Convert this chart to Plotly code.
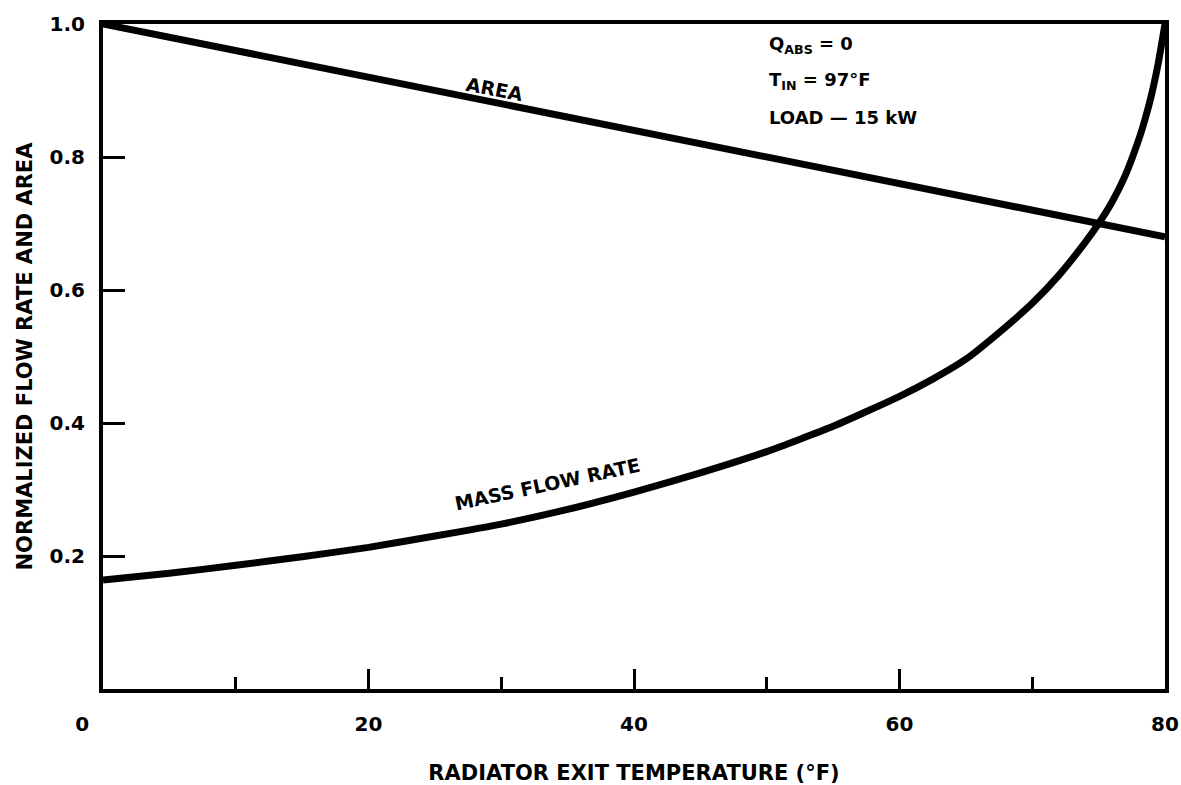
import plotly.graph_objects as go

# Data
temp_area = [0, 10, 20, 30, 40, 50, 60, 70, 80]
area = [1.0, 0.96, 0.92, 0.88, 0.84, 0.80, 0.76, 0.72, 0.68]

temp_flow = [0, 5, 10, 15, 20, 25, 30, 35, 40, 45, 50, 55, 60, 62.5, 65, 67.5, 70, 72, 74, 75,
             76, 77, 78, 78.5, 79, 79.5, 80]
mass_flow = [0.164, 0.174, 0.186, 0.199, 0.213, 0.23, 0.248, 0.27, 0.296, 0.325, 0.357, 0.395,
             0.44, 0.466, 0.496, 0.536, 0.58, 0.622, 0.672, 0.70, 0.732, 0.772, 0.825, 0.857,
             0.895, 0.942, 1.0]

x_tickvals = [0, 20, 40, 60, 80]
x_ticktext = ["0" + "\u00a0" * 6, "20", "40", "60", "80"]
y_tickvals = [0.2, 0.4, 0.6, 0.8, 1.0]
y_ticktext = ["0.2", "0.4", "0.6", "0.8", "1.0"]

FONT = "DejaVu Sans"

fig = go.Figure()
fig.add_trace(go.Scatter(x=temp_area, y=area, mode="lines",
                         line=dict(color="black", width=7), showlegend=False))
fig.add_trace(go.Scatter(x=temp_flow, y=mass_flow, mode="lines",
                         line=dict(color="black", width=7, shape="spline", smoothing=0.5),
                         showlegend=False))

fig.update_layout(
    width=1181, height=785,
    margin=dict(l=103, r=2, t=24, b=86),
    paper_bgcolor="white", plot_bgcolor="white",
    font=dict(family=FONT, color="black", size=18, weight="bold"),
)
fig.update_xaxes(
    range=[0, 80], showgrid=False, zeroline=False,
    showline=True, linecolor="black", linewidth=4, mirror=True,
    tickvals=x_tickvals, ticktext=x_ticktext,
    ticks="inside", ticklen=20, tickwidth=3, tickcolor="black",
    minor=dict(dtick=10, tick0=0, ticks="inside", ticklen=12, tickwidth=3, tickcolor="black"),
    tickfont=dict(family=FONT, size=20, weight="bold"),
    ticklabelstandoff=14, ticklabeloverflow="allow",
    title=dict(text="RADIATOR EXIT TEMPERATURE (°F)",
               font=dict(family=FONT, size=21, weight="bold"), standoff=32),
)
fig.update_yaxes(
    range=[0, 1.0], showgrid=False, zeroline=False,
    showline=True, linecolor="black", linewidth=4, mirror=True,
    tickvals=y_tickvals, ticktext=y_ticktext,
    ticks="inside", ticklen=22, tickwidth=3, tickcolor="black",
    tickfont=dict(family=FONT, size=20, weight="bold"),
    ticklabelstandoff=10,
    title=dict(text="NORMALIZED FLOW RATE AND AREA",
               font=dict(family=FONT, size=21, weight="bold"), standoff=12),
)

fig.add_annotation(x=29.5, y=0.903, xref="x", yref="y", text="AREA", showarrow=False,
                   textangle=11, font=dict(family=FONT, size=19, weight="bold"))
fig.add_annotation(x=33.5, y=0.309, xref="x", yref="y", text="MASS FLOW RATE", showarrow=False,
                   textangle=-12, font=dict(family=FONT, size=19, weight="bold"))
fig.add_annotation(x=50.0, y=0.968, xref="x", yref="y", xanchor="left",
                   text="Q<sub>ABS</sub> = 0", showarrow=False,
                   font=dict(family=FONT, size=18, weight="bold"))
fig.add_annotation(x=50.0, y=0.915, xref="x", yref="y", xanchor="left",
                   text="T<sub>IN</sub> = 97°F", showarrow=False,
                   font=dict(family=FONT, size=18, weight="bold"))
fig.add_annotation(x=50.0, y=0.86, xref="x", yref="y", xanchor="left",
                   text="LOAD — 15 kW", showarrow=False,
                   font=dict(family=FONT, size=18, weight="bold"))

fig.write_html("out.html")
